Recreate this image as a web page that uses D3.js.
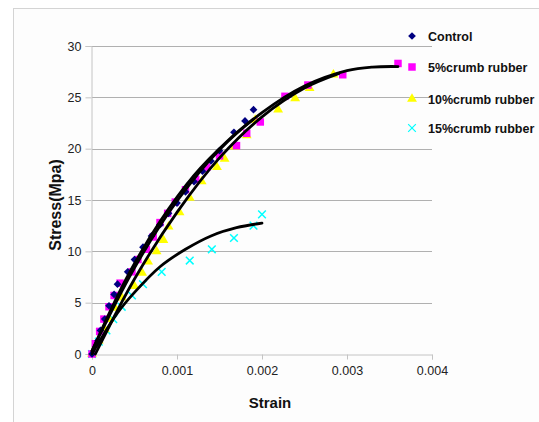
<!DOCTYPE html>
<html>
<head>
<meta charset="utf-8">
<script src="https://cdn.jsdelivr.net/npm/d3@7"></script>
<style>
  body { margin: 0; background: #fff; }
  svg { display: block; font-family: 'Liberation Sans', Arial, sans-serif; }
</style>
</head>
<body>
<svg width="539" height="422"></svg>
<script>
// series names as in the legend
let seriesNames = ['Control', '5%crumb rubber', '10%crumb rubber', '15%crumb rubber'];

// measured points [strain, stress]
let control = [[0, 0], [0.00007, 1.3], [0.0001, 2.3], [0.00015, 3.4], [0.0002, 4.7], [0.00026, 5.8],
  [0.0003, 6.8], [0.00042, 8.0], [0.0005, 9.2], [0.0006, 10.4], [0.0007, 11.5], [0.0008, 12.6],
  [0.0009, 13.7], [0.001, 14.7], [0.0011, 15.8], [0.0012, 16.8], [0.0013, 17.8], [0.0014, 18.8],
  [0.0015, 19.8], [0.00167, 21.6], [0.0018, 22.7], [0.0019, 23.8]];
let rubber5 = [[0, 0], [0.00004, 1.0], [0.00009, 2.2], [0.00014, 3.4], [0.0002, 4.6], [0.00026, 5.7],
  [0.00033, 6.9], [0.00047, 8.0], [0.00054, 9.2], [0.00064, 10.2], [0.00072, 11.4], [0.0008, 12.8],
  [0.00089, 13.7], [0.00098, 14.8], [0.0011, 16.0], [0.00122, 17.0], [0.00135, 18.2], [0.0015, 19.3],
  [0.0017, 20.3], [0.00182, 21.5], [0.00198, 22.6], [0.00227, 25.1], [0.00254, 26.2], [0.00295, 27.2],
  [0.0036, 28.3]];
let rubber10 = [[0, 0], [0.00008, 1.3], [0.00015, 2.4], [0.0002, 3.4], [0.00027, 4.5], [0.00035, 5.5],
  [0.0005, 6.6], [0.00059, 7.9], [0.00066, 9.0], [0.00076, 10.0], [0.00084, 11.1], [0.0009, 12.4],
  [0.00103, 13.8], [0.00115, 15.2], [0.00129, 16.8], [0.00147, 18.2], [0.00156, 19.0], [0.00168, 20.2],
  [0.00182, 21.3], [0.00192, 22.8], [0.00219, 23.8], [0.00239, 24.9], [0.00256, 25.9], [0.00284, 27.2]];
let rubber15 = [[0, 0], [0.00008, 1.2], [0.00017, 2.3], [0.00025, 3.4], [0.00035, 4.6], [0.00047, 5.7],
  [0.0006, 6.8], [0.00082, 8.0], [0.00115, 9.1], [0.00141, 10.2], [0.00167, 11.3], [0.0019, 12.5],
  [0.002, 13.6]];

// trend lines
let trendControl = [[0, 0.3], [0.0004, 7.3], [0.0008, 12.9], [0.0012, 17.4], [0.0016, 20.8], [0.0019, 22.9]];
let trend5 = [[0, 0.3], [0.0005, 8.4], [0.001, 14.9], [0.0015, 19.9], [0.002, 23.5], [0.0025, 26.1],
  [0.003, 27.6], [0.0033, 27.95], [0.0036, 28.0]];
let trend10 = [[0.00004, 0], [0.0005, 7.3], [0.001, 13.8], [0.0015, 19.1], [0.002, 23.1], [0.0025, 25.9],
  [0.0029, 27.3]];
let trend15 = [[0, 0], [0.0001, 1.4], [0.0003, 4.0], [0.0005, 6.0], [0.0008, 8.5], [0.0011, 10.2],
  [0.0014, 11.5], [0.0017, 12.3], [0.002, 12.75]];

let xTicks = [0, 0.001, 0.002, 0.003, 0.004];
let yTicks = [0, 5, 10, 15, 20, 25, 30];

let svg = d3.select('svg');

// chart frame
svg.append('rect')
  .attr('x', 13.5).attr('y', 8.5)
  .attr('width', 560).attr('height', 440)
  .attr('fill', '#fdfdfd')
  .attr('stroke', '#d4d4d4');

let x = d3.scaleLinear().domain([0, 0.004]).range([92, 432]);
let y = d3.scaleLinear().domain([0, 30]).range([354, 46]);

// gridlines
svg.append('g')
  .selectAll('line')
  .data(yTicks.filter(d => d > 0))
  .join('line')
  .attr('x1', x(0)).attr('x2', x(0.004))
  .attr('y1', d => Math.round(y(d)) + 0.5).attr('y2', d => Math.round(y(d)) + 0.5)
  .attr('stroke', '#b0b0b0');

// axes
let xAxis = svg.append('g')
  .attr('transform', 'translate(0,' + (Math.round(y(0)) + 0.5) + ')')
  .call(d3.axisBottom(x).tickValues(xTicks).tickFormat(d => d === 0 ? '0' : d3.format('.3f')(d)).tickSizeOuter(0).tickSize(5).tickPadding(7));
let yAxis = svg.append('g')
  .attr('transform', 'translate(' + (Math.round(x(0)) - 0.5) + ',0)')
  .call(d3.axisLeft(y).tickValues(yTicks).tickSizeOuter(0).tickSize(6).tickPadding(4));

[xAxis, yAxis].forEach(a => {
  a.select('.domain').attr('stroke', '#c4c4c4');
  a.selectAll('.tick line').attr('stroke', '#c4c4c4');
  a.selectAll('.tick text')
    .attr('fill', '#222')
    .style('font-family', "'Liberation Sans', Arial, sans-serif")
    .style('font-size', '12.5px');
});

// axis titles
svg.append('text')
  .attr('x', 270).attr('y', 408)
  .attr('text-anchor', 'middle')
  .style('font-size', '15px').style('font-weight', 'bold')
  .attr('fill', '#111')
  .text('Strain');
svg.append('text')
  .attr('transform', 'translate(61,205) rotate(-90)')
  .attr('text-anchor', 'middle')
  .style('font-size', '16px').style('font-weight', 'bold')
  .attr('fill', '#111')
  .text('Stress(Mpa)');

// markers
let symbols = [
  {data: control, type: d3.symbolDiamond2, size: 38, fill: '#000080', stroke: null},
  {data: rubber5, type: d3.symbolSquare, size: 56, fill: '#ff00ff', stroke: null},
  {data: rubber10, type: d3.symbolTriangle, size: 42, fill: '#ffff00', stroke: null},
  {data: rubber15, type: d3.symbolX, size: 40, fill: 'none', stroke: '#00ffff'}
];

symbols.slice().reverse().forEach(s => {
  svg.append('g')
    .selectAll('path')
    .data(s.data)
    .join('path')
    .attr('transform', d => 'translate(' + x(d[0]) + ',' + y(d[1]) + ')')
    .attr('d', d3.symbol().type(s.type).size(s.size))
    .attr('fill', s.fill)
    .attr('stroke', s.stroke)
    .attr('stroke-width', 1.5);
});

// trend lines
let line = d3.line()
  .x(d => x(d[0]))
  .y(d => y(d[1]))
  .curve(d3.curveCatmullRom);

[trend15, trend10, trend5, trendControl].forEach(t => {
  svg.append('path')
    .datum(t)
    .attr('fill', 'none')
    .attr('stroke', '#000')
    .attr('stroke-width', 2.8)
    .attr('stroke-linecap', 'round')
    .attr('d', line);
});

// legend
let legend = svg.append('g');
let legendY = [36, 67, 99, 128];
seriesNames.forEach((name, i) => {
  let s = symbols[i];
  legend.append('path')
    .attr('transform', 'translate(412,' + legendY[i] + ')')
    .attr('d', d3.symbol().type(s.type).size(s.size))
    .attr('fill', s.fill)
    .attr('stroke', s.stroke)
    .attr('stroke-width', 1.2);
  legend.append('text')
    .attr('x', 428).attr('y', legendY[i] + 4.5)
    .style('font-size', '12.5px').style('font-weight', 'bold')
    .attr('fill', '#111')
    .text(name);
});
</script>
</body>
</html>
